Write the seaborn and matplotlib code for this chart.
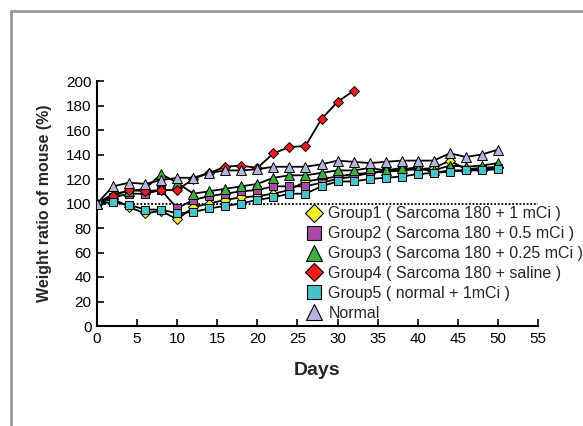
import matplotlib
matplotlib.use("Agg")
import matplotlib.pyplot as plt
import seaborn as sns
import numpy as np
from matplotlib.lines import Line2D

days = list(range(0, 51, 2))
days_g4 = list(range(0, 33, 2))

group1 = [100, 104, 97, 92, 94, 87, 97, 100, 103, 105, 106, 108, 111, 118, 120, 122, 124, 125, 127, 127, 128, 129, 135, 128, 129, 130]
group2 = [100, 105, 108, 108, 111, 96, 103, 106, 108, 110, 111, 114, 114, 114, 117, 120, 122, 125, 126, 127, 130, 125, 127, 127, 128, 129]
group3 = [100, 108, 110, 112, 124, 117, 108, 110, 112, 114, 116, 121, 123, 123, 125, 127, 127, 129, 127, 129, 128, 127, 131, 130, 131, 133]
group4 = [100, 106, 111, 110, 111, 111, 120, 125, 130, 131, 129, 141, 146, 147, 169, 183, 192]
group5 = [100, 101, 99, 95, 95, 92, 93, 96, 98, 100, 103, 105, 108, 108, 114, 118, 118, 120, 121, 122, 124, 125, 126, 127, 127, 128]
normal = [100, 114, 117, 116, 119, 121, 121, 125, 127, 127, 128, 130, 130, 130, 132, 135, 134, 133, 134, 135, 135, 135, 141, 138, 140, 144]

labels = ["Group1 ( Sarcoma 180 + 1 mCi )",
          "Group2 ( Sarcoma 180 + 0.5 mCi )",
          "Group3 ( Sarcoma 180 + 0.25 mCi )",
          "Group4 ( Sarcoma 180 + saline )",
          "Group5 ( normal + 1mCi )",
          "Normal"]
xticks = list(range(0, 56, 5))
yticks = list(range(0, 201, 20))

sns.set_style("ticks")
plt.rcParams['font.family'] = ['Liberation Sans', 'DejaVu Sans']

fig = plt.figure(figsize=(5.83, 4.26), dpi=100)
ax = fig.add_axes([97/583, 1-326/426, (538-97)/583, (326-81)/426])

series = [
    (days, group1, 'D', '#f2ec2e', 5.5, 9),
    (days, group2, 's', '#a64ca6', 6.2, 10.5),
    (days, group3, '^', '#3fae3f', 6.8, 11),
    (days_g4, group4, 'D', '#ee1c1c', 5.5, 9),
    (days, group5, 's', '#45c3c9', 6.2, 10.5),
    (days, normal, '^', '#b4b4dc', 6.8, 11),
]

ax.plot([0, 55], [100, 100], linestyle=(0, (1.0, 1.0)), color='black', lw=1.3, zorder=1)

handles = []
for (x, y, m, c, ms, lms), lab in zip(series, labels):
    sns.lineplot(x=x, y=y, ax=ax, color='black', lw=1.3, marker=m,
                 markersize=ms, markerfacecolor=c, markeredgecolor='black',
                 markeredgewidth=0.7, zorder=3)
    handles.append(Line2D([], [], linestyle='none', marker=m, markersize=lms,
                          markerfacecolor=c, markeredgecolor='black',
                          markeredgewidth=0.8, label=lab))

ax.set_xlim(0, 55)
ax.set_ylim(0, 200)
ax.set_xticks(xticks)
ax.set_yticks(yticks)
ax.tick_params(direction='in', length=5, width=1.2, labelsize=11, colors='black', pad=4)
for s in ['top', 'right']:
    ax.spines[s].set_visible(False)
for s in ['left', 'bottom']:
    ax.spines[s].set_linewidth(1.5)
    ax.spines[s].set_color('black')

ax.set_xlabel("Days", fontsize=14, fontweight='bold', labelpad=12)
ax.set_ylabel("Weight ratio of mouse (%)", fontsize=11.5, fontweight='bold', labelpad=10)

leg = ax.legend(handles=handles, loc='upper left', bbox_to_anchor=(0.463, 0.515),
                frameon=False, fontsize=11.5, handlelength=0.8, handletextpad=0.5,
                labelspacing=0.31, borderaxespad=0)

fig.add_artist(Line2D([11/583, 1.0], [1-11/426, 1-11/426], color='#9a9a9a', lw=2, transform=fig.transFigure))
fig.add_artist(Line2D([11/583, 11/583], [0, 1-11/426], color='#9a9a9a', lw=2, transform=fig.transFigure))

fig.savefig("out.png", dpi=100)
